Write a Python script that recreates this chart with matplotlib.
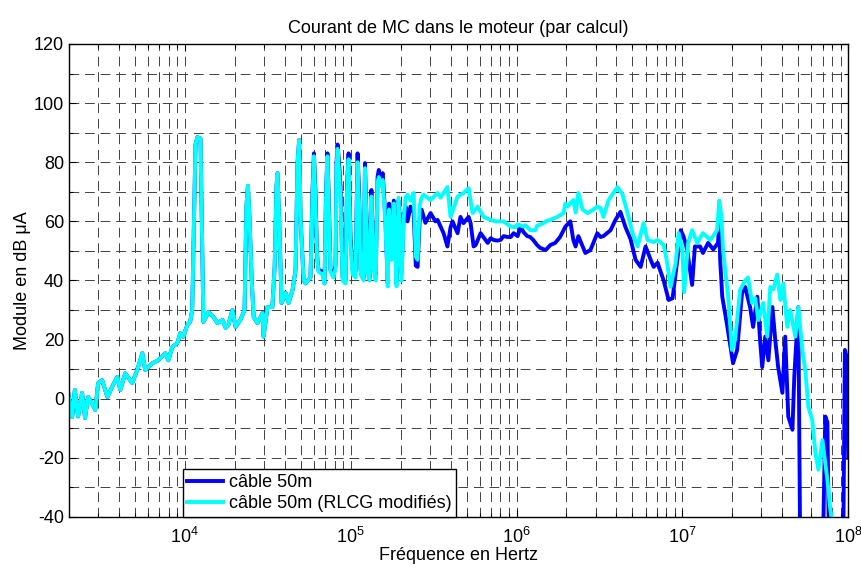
import matplotlib
matplotlib.use("Agg")
import matplotlib.pyplot as plt
from matplotlib.ticker import MultipleLocator, LogLocator, NullFormatter

plt.rcParams['font.family'] = ['Liberation Sans', 'DejaVu Sans']
plt.rcParams['mathtext.default'] = 'regular'
plt.rcParams['axes.unicode_minus'] = False

# low band, both curves overlap (Hz, dB uA)
shared_f = [1.98e3, 2.09e3, 2.17e3, 2.27e3, 2.40e3, 2.50e3, 2.61e3, 2.72e3, 2.88e3, 3.00e3,
            3.17e3, 3.41e3, 3.64e3, 3.91e3, 4.08e3, 4.37e3, 4.81e3, 5.16e3, 5.54e3, 5.76e3,
            6.37e3, 6.91e3, 7.62e3, 7.95e3, 8.39e3, 9.00e3, 9.39e3, 9.79e3, 1.035e4, 1.076e4,
            1.107e4, 1.159e4, 1.19e4, 1.242e4, 1.294e4, 1.387e4, 1.49e4, 1.573e4, 1.687e4, 1.76e4,
            1.83e4, 1.935e4, 2.02e4, 2.16e4, 2.29e4, 2.35e4, 2.40e4, 2.45e4, 2.53e4, 2.60e4,
            2.74e4, 2.94e4, 2.98e4, 3.15e4, 3.37e4, 3.48e4, 3.57e4, 3.62e4, 3.73e4, 3.83e4,
            4.05e4, 4.22e4, 4.46e4, 4.65e4, 4.78e4, 4.89e4, 4.99e4, 5.20e4, 5.34e4]
shared_db = [2, -6.2, 3, -6, 2, -6.5, 0.6, -1, -3.8, 5.3,
             6.3, 0.6, 4, 7.4, 3, 8.6, 5.3, 9.7, 15.4, 9.7,
             12, 13, 15.4, 13, 17.5, 18.8, 22.2, 21, 25, 26,
             30, 86, 88.5, 88, 26, 29.3, 27.6, 25.6, 26.6, 24,
             25, 30, 24.3, 26.6, 30, 65, 72, 62, 40, 27.6,
             25.6, 29, 21, 31, 31, 45, 72, 76.3, 55, 32.4,
             35.8, 32.4, 36.8, 43.6, 80, 87.5, 60.5, 40, 39]

# resonance band, same frequencies, different peak heights
mid_f = [5.72e4, 5.88e4, 6.00e4, 6.13e4, 6.26e4, 6.39e4, 6.76e4, 6.95e4, 7.10e4, 7.24e4,
         7.40e4, 7.55e4, 7.87e4, 8.10e4, 8.21e4, 8.33e4, 8.50e4, 8.68e4, 8.94e4, 9.31e4,
         9.50e4, 9.71e4, 9.98e4, 1.026e5, 1.069e5, 1.10e5, 1.123e5, 1.147e5, 1.198e5, 1.219e5,
         1.247e5, 1.26e5, 1.30e5, 1.333e5, 1.374e5, 1.415e5, 1.452e5, 1.477e5, 1.514e5, 1.56e5,
         1.62e5, 1.673e5, 1.704e5, 1.766e5, 1.818e5, 1.867e5, 1.89e5, 1.942e5, 2.025e5, 2.087e5,
         2.143e5, 2.20e5, 2.293e5, 2.397e5, 2.469e5, 2.531e5, 2.603e5, 2.675e5]
mid_cable_db = [41, 70, 83, 70, 49, 43.6, 43, 39, 70, 83,
                65, 43.6, 42, 45, 80, 86, 80, 71.6, 41, 40,
                72, 83, 55, 43.6, 43, 83, 70, 43.6, 41, 79.7,
                60, 44.6, 41, 70.6, 45, 42, 75, 77.4, 74, 76.3,
                60.5, 39, 66, 49, 67, 50, 39, 67, 42.5, 62,
                65, 60, 65, 63, 45, 44.6, 60, 64]
mid_rlcg_db = [41, 68, 82, 67, 49, 43, 42, 39, 68, 82,
               62, 43, 41, 44, 78, 84.5, 77, 68, 40, 39,
               70, 81, 52, 42, 41, 80, 66, 42, 40, 78,
               58, 43, 40, 68.4, 44, 40, 73, 75, 72, 74,
               59, 38, 64, 47, 66, 45, 38, 68, 40, 61,
               68, 69, 67, 69.6, 48, 47, 65, 68]

# high band, câble 50m
hi_cable_f = [2.82e5, 3.03e5, 3.24e5, 3.34e5, 3.63e5, 3.83e5, 4.00e5, 4.11e5, 4.41e5, 4.59e5,
              4.79e5, 5.14e5, 5.28e5, 5.51e5, 5.67e5, 6.07e5, 6.70e5, 6.98e5, 7.27e5, 7.69e5,
              8.01e5, 8.35e5, 8.84e5, 9.22e5, 9.61e5, 1.015e6, 1.06e6, 1.10e6, 1.16e6, 1.21e6,
              1.26e6, 1.33e6, 1.39e6, 1.50e6, 1.60e6, 1.71e6, 1.83e6, 1.97e6, 2.11e6, 2.20e6,
              2.27e6, 2.36e6, 2.60e6, 2.79e6, 3.07e6, 3.21e6, 3.34e6, 3.69e6, 3.95e6, 4.23e6,
              4.54e6, 4.87e6, 5.22e6, 5.60e6, 6.00e6, 6.44e6, 6.71e6, 7.09e6, 7.71e6, 8.26e6,
              8.73e6, 9.37e6, 9.77e6, 1.015e7, 1.07e7, 1.145e7, 1.19e7, 1.28e7, 1.33e7, 1.43e7,
              1.535e7, 1.64e7, 1.67e7, 1.69e7, 1.74e7, 1.86e7, 2.02e7, 2.14e7, 2.29e7, 2.39e7,
              2.56e7, 2.67e7, 2.83e7, 2.95e7, 3.03e7, 3.16e7, 3.30e7, 3.49e7, 3.63e7, 3.78e7,
              4.01e7, 4.17e7, 4.35e7, 4.61e7, 4.73e7, 5.00e7, 5.15e7, 6.99e7, 7.28e7, 7.49e7,
              7.70e7, 9.30e7, 9.55e7, 9.80e7, 1.0e8]
hi_cable_db = [59.5, 62.8, 60, 60.5, 56, 51.5, 58, 60, 56, 61.5,
               59.4, 61.5, 59.5, 51.5, 52, 56, 52.7, 54.3, 53.7, 53.5,
               53.7, 55, 54.7, 54.7, 56, 55, 58.2, 56.4, 55, 54.7,
               53.7, 52, 51, 50.3, 52, 52.7, 54.7, 58.2, 60, 53.7,
               51.5, 55, 49.3, 50.3, 56, 54.7, 55, 57, 60.5, 63.2,
               58, 54, 47, 44.6, 51.5, 47, 44.6, 46, 40, 33.4,
               34, 48, 57, 55, 50.3, 38.5, 51.5, 51.5, 49.3, 52.7,
               50.5, 52.7, 60, 47, 34.5, 25, 12, 16.5, 35.8, 37.8,
               31, 24.3, 34.5, 18.8, 10.7, 21, 13, 31, 20, 10.7,
               2, 21, -6, -10.5, 7.4, 31, -60, -60, -6, -8,
               -60, -60, 16.5, 14, -20]

# high band, câble 50m (RLCG modifiés)
hi_rlcg_f = [2.75e5, 3.03e5, 3.34e5, 3.48e5, 3.83e5, 4.00e5, 4.41e5, 4.79e5, 5.14e5, 5.43e5,
             5.82e5, 6.33e5, 6.98e5, 7.48e5, 8.35e5, 8.59e5, 9.22e5, 9.88e5, 1.015e6, 1.10e6,
             1.13e6, 1.21e6, 1.30e6, 1.33e6, 1.46e6, 1.50e6, 1.60e6, 1.76e6, 1.92e6, 1.97e6,
             2.03e6, 2.20e6, 2.27e6, 2.36e6, 2.50e6, 2.68e6, 2.91e6, 3.07e6, 3.21e6, 3.34e6,
             3.59e6, 3.84e6, 4.06e6, 4.36e6, 4.67e6, 5.01e6, 5.37e6, 5.83e6, 6.16e6, 6.71e6,
             7.09e6, 7.71e6, 8.04e6, 8.49e6, 9.11e6, 9.50e6, 1.0e7, 1.025e7, 1.083e7, 1.145e7,
             1.23e7, 1.33e7, 1.475e7, 1.62e7, 1.67e7, 1.72e7, 1.76e7, 1.89e7, 1.99e7, 2.08e7,
             2.23e7, 2.39e7, 2.49e7, 2.63e7, 2.75e7, 2.87e7, 3.07e7, 3.25e7, 3.39e7, 3.54e7,
             3.73e7, 3.90e7, 4.06e7, 4.29e7, 4.47e7, 4.80e7, 5.00e7, 5.29e7, 5.51e7, 5.75e7,
             6.07e7, 6.34e7, 6.61e7, 6.99e7, 7.49e7, 7.81e7, 8.25e7]
hi_rlcg_db = [69, 67.2, 69.6, 68, 71.6, 61.5, 68.4, 69.6, 71.2, 62.8,
              65, 61.5, 60.5, 60, 60, 59.5, 58.2, 58, 59, 58.2,
              58.7, 57, 57, 58.5, 59.4, 60, 60.5, 61.5, 62.8, 66,
              65, 67.2, 63, 69.6, 64, 62.8, 64, 65, 64.5, 61.5,
              67.2, 69.6, 71.6, 69, 62.8, 56, 51.5, 59.4, 53.7, 53,
              53.7, 52, 47, 37.8, 46, 56, 50.3, 36, 52.7, 57,
              52.7, 56, 53.7, 57, 67, 61.5, 50, 34.5, 16.5, 20,
              36.8, 40, 41, 32.4, 34, 26.6, 32.4, 21, 37.8, 37,
              42, 33.4, 39, 24.3, 30, 21, 31, 16.5, 9.7, -2.8,
              -7.2, -18.4, -24, -14, -27.5, -37.6, -48]

labels = ["câble 50m", "câble 50m (RLCG modifiés)"]
colors = ["#0000ff", "#00ffff"]

cable_f = shared_f + mid_f + hi_cable_f
cable_db = shared_db + mid_cable_db + hi_cable_db
rlcg_f = shared_f + mid_f + hi_rlcg_f
rlcg_db = shared_db + mid_rlcg_db + hi_rlcg_db

fig = plt.figure(figsize=(8.62, 5.71), dpi=100)
ax = fig.add_axes([0.080, 0.0946, 0.904, 0.8284])

ax.plot(cable_f, cable_db, color=colors[0], lw=2.8, label=labels[0])
ax.plot(rlcg_f, rlcg_db, color=colors[1], lw=2.8, label=labels[1])

ax.set_xscale("log")
ax.set_xlim(2e3, 1e8)
ax.set_ylim(-40, 120)

# ticks / grid, matlab look
ax.set_xticks([1e4, 1e5, 1e6, 1e7, 1e8],
              labels=["$10^{4}$", "$10^{5}$", "$10^{6}$", "$10^{7}$", "$10^{8}$"])
ax.xaxis.set_minor_locator(LogLocator(base=10, subs=range(2, 10), numticks=20))
ax.xaxis.set_minor_formatter(NullFormatter())
ax.set_yticks(range(-40, 121, 20))
ax.yaxis.set_minor_locator(MultipleLocator(10))
ax.tick_params(which="both", direction="in", top=True, right=True, labelsize=13, width=0.8)
ax.tick_params(which="major", length=5)
ax.tick_params(which="minor", length=3)
ax.tick_params(axis="x", which="major", pad=7)
ax.grid(True, which="both", linestyle=(0, (10, 6)), color="0.25", linewidth=0.7)
for s in ax.spines.values():
    s.set_linewidth(1.0)

ax.set_title("Courant de MC dans le moteur (par calcul)", fontsize=13, pad=8)
ax.set_xlabel("Fréquence en Hertz", fontsize=13, labelpad=0)
ax.set_ylabel("Module en dB μA", fontsize=13, labelpad=2)

leg = ax.legend(loc="lower left", bbox_to_anchor=(0.146, 0.0), fontsize=13,
                fancybox=False, edgecolor="black", framealpha=1, borderaxespad=0,
                handlelength=2.0, handletextpad=0.3, labelspacing=0.25, borderpad=0.25)
leg.get_frame().set_linewidth(1.0)

fig.savefig("out.png", dpi=100)
